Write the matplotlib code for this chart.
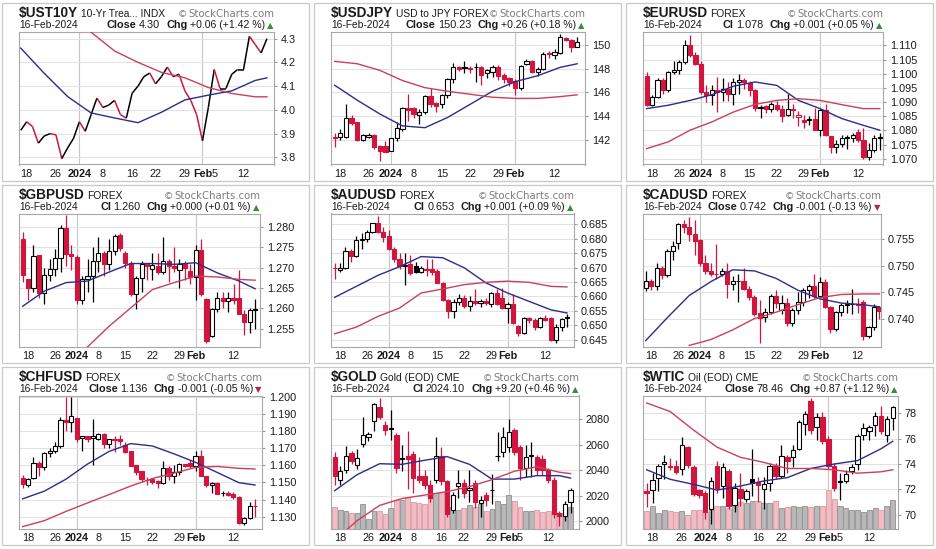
import numpy as np
import pandas as pd
import matplotlib
matplotlib.use('Agg')
import matplotlib.pyplot as plt
from matplotlib.patches import Rectangle
from matplotlib.collections import LineCollection

FONT = ['Liberation Sans', 'DejaVu Sans']
plt.rcParams['font.family'] = FONT

# trading calendars (forex trades on Jan 15, US markets do not)
fx_days = pd.bdate_range('2023-12-15', '2024-02-16')
fx_days = fx_days[~fx_days.isin(pd.to_datetime(['2023-12-25', '2024-01-01']))]
us_days = fx_days[fx_days != pd.Timestamp('2024-01-15')]

fx_tick_dates = ['2023-12-18', '2023-12-26', '2024-01-02', '2024-01-08', '2024-01-15',
                 '2024-01-22', '2024-01-29', '2024-02-01', '2024-02-12']
fx_tick_labels = ['18', '26', '2024', '8', '15', '22', '29', 'Feb', '12']
us_tick_dates = ['2023-12-18', '2023-12-26', '2024-01-02', '2024-01-08', '2024-01-16',
                 '2024-01-22', '2024-01-29', '2024-02-01', '2024-02-05', '2024-02-12']
us_tick_labels = ['18', '26', '2024', '8', '16', '22', '29', 'Feb', '5', '12']

ma_days_fx = [0, 4, 8, 12, 16, 20, 24, 28, 32, 36, 40, 43]
ma_days_us = [0, 4, 8, 12, 16, 20, 24, 28, 32, 36, 40, 42]

# ---------------- data ----------------
ust_close = [3.914, 3.95, 3.93, 3.86, 3.89, 3.90, 3.895, 3.795, 3.84, 3.88, 3.95, 3.91, 3.98,
             4.05, 4.01, 4.02, 4.04, 3.98, 3.965, 4.07, 4.10, 4.14, 4.155, 4.11, 4.14, 4.18,
             4.14, 4.15, 4.08, 4.04, 3.98, 3.87, 4.01, 4.17, 4.09, 4.09, 4.15, 4.17, 4.17,
             4.31, 4.275, 4.24, 4.30]
ust_ma20 = [4.26, 4.154, 4.056, 3.987, 3.966, 3.946, 3.99, 4.042, 4.062, 4.08, 4.124, 4.135]
ust_ma50 = [np.nan, np.nan, 4.42, 4.327, 4.248, 4.20, 4.158, 4.135, 4.094, 4.069, 4.055, 4.055]

# (open, high, low, close)
usdjpy_ohlc = [
    (142.3, 142.6, 141.4, 142.2), (142.3, 142.9, 142.0, 142.6), (142.3, 145.0, 142.2, 143.9),
    (143.9, 144.1, 143.3, 143.45), (143.5, 143.5, 141.9, 142.0), (142.05, 142.5, 141.9, 142.4),
    (142.3, 142.6, 142.2, 142.45), (142.4, 142.5, 141.3, 141.45), (141.5, 141.6, 140.3, 141.1),
    (141.5, 141.9, 141.0, 141.05), (141.1, 142.2, 141.1, 142.2), (142.2, 143.5, 141.9, 143.0),
    (142.95, 144.75, 142.8, 144.7), (144.7, 145.9, 143.6, 144.5), (144.7, 144.8, 143.9, 144.2),
    (144.15, 144.6, 143.4, 144.4), (144.4, 145.8, 144.2, 145.7), (145.7, 146.4, 144.8, 145.05),
    (145.1, 145.2, 144.35, 144.85), (145.0, 145.9, 144.7, 145.75), (145.75, 147.2, 145.5, 147.15),
    (147.15, 148.5, 146.8, 148.15), (148.15, 148.2, 147.8, 148.0), (148.1, 148.6, 147.6, 148.05),
    (148.05, 148.2, 147.6, 147.98), (148.1, 148.5, 146.9, 148.15), (148.15, 148.2, 146.6, 147.45),
    (147.6, 148.0, 147.2, 147.85), (147.7, 148.3, 147.3, 148.15), (148.1, 148.3, 147.0, 147.35),
    (147.45, 147.6, 146.8, 147.1), (147.25, 147.3, 146.5, 146.85), (146.95, 147.1, 145.8, 146.4),
    (146.4, 148.3, 146.2, 148.2), (148.4, 148.8, 148.3, 148.6), (148.65, 148.7, 147.6, 147.7),
    (147.7, 148.1, 147.4, 148.0), (148.0, 149.4, 147.9, 149.25), (149.3, 149.5, 148.9, 149.2),
    (149.1, 149.6, 148.8, 149.4), (149.3, 150.85, 149.2, 150.6), (150.55, 150.65, 150.3, 150.4),
    (150.4, 150.5, 149.4, 149.8), (149.8, 150.6, 149.8, 150.23)]
usdjpy_ma20 = [146.6, 145.35, 144.2, 143.2, 143.05, 143.9, 145.0, 146.1, 146.9, 147.4, 148.1, 148.4]
usdjpy_ma50 = [148.6, 148.4, 147.85, 147.0, 146.4, 146.1, 145.85, 145.6, 145.5, 145.5, 145.65, 145.8]

eurusd_ohlc = [
    (1.0991, 1.1005, 1.0885, 1.0889), (1.0889, 1.0925, 1.0885, 1.0918), (1.0918, 1.0985, 1.0915, 1.0977),
    (1.0977, 1.0985, 1.0930, 1.0942), (1.0942, 1.1010, 1.0935, 1.1006), (1.1006, 1.1045, 1.0998, 1.1012),
    (1.1014, 1.1050, 1.1000, 1.1041), (1.1041, 1.1120, 1.1035, 1.1100), (1.1100, 1.1135, 1.1060, 1.1065),
    (1.1065, 1.1075, 1.1030, 1.1035), (1.1035, 1.1045, 1.0930, 1.0936), (1.0936, 1.0960, 1.0900, 1.0924),
    (1.0924, 1.0960, 1.0890, 1.0942), (1.0942, 1.0990, 1.0865, 1.0936), (1.0936, 1.0985, 1.0905, 1.0948),
    (1.0948, 1.0970, 1.0905, 1.0930), (1.0930, 1.0985, 1.0890, 1.0971), (1.0971, 1.1000, 1.0930, 1.0977),
    (1.0977, 1.0985, 1.0945, 1.0971), (1.0967, 1.0975, 1.0920, 1.0942), (1.0942, 1.0945, 1.0870, 1.0881),
    (1.0878, 1.0890, 1.0845, 1.0883), (1.0885, 1.0890, 1.0860, 1.0877), (1.0877, 1.0900, 1.0865, 1.0895),
    (1.0889, 1.0905, 1.0870, 1.0874), (1.0877, 1.0890, 1.0830, 1.0850), (1.0854, 1.0930, 1.0850, 1.0877),
    (1.0877, 1.0895, 1.0845, 1.0871), (1.0846, 1.0870, 1.0815, 1.0854), (1.0836, 1.0855, 1.0810, 1.0830),
    (1.0836, 1.0850, 1.0820, 1.0840), (1.0842, 1.0880, 1.0800, 1.0801), (1.0801, 1.0875, 1.0780, 1.0871),
    (1.0871, 1.0895, 1.0780, 1.0783), (1.0780, 1.0782, 1.0720, 1.0740), (1.0740, 1.0765, 1.0722, 1.0754),
    (1.0754, 1.0785, 1.0740, 1.0772), (1.0775, 1.0785, 1.0735, 1.0776), (1.0775, 1.0790, 1.0760, 1.0783),
    (1.0795, 1.0805, 1.0760, 1.0766), (1.0766, 1.0810, 1.0700, 1.0705), (1.0705, 1.0755, 1.0695, 1.0730),
    (1.0730, 1.0785, 1.0723, 1.0775), (1.0775, 1.0790, 1.0730, 1.0778)]
eurusd_ma20 = [1.0877, 1.0889, 1.0906, 1.0926, 1.0956, 1.0971, 1.0959, 1.0906, 1.0877, 1.0842, 1.0818, 1.0801]
eurusd_ma50 = [1.0736, 1.0760, 1.0801, 1.0830, 1.0865, 1.0892, 1.0906, 1.0912, 1.0906, 1.0891, 1.0877, 1.0877]

gbpusd_ohlc = [
    (1.2770, 1.2788, 1.2665, 1.2683), (1.2671, 1.2673, 1.2620, 1.2650), (1.2650, 1.2755, 1.2640, 1.2728),
    (1.2730, 1.2730, 1.2625, 1.2638), (1.2638, 1.2700, 1.2610, 1.2683), (1.2683, 1.2720, 1.2668, 1.2697),
    (1.2697, 1.2745, 1.2680, 1.2724), (1.2724, 1.2805, 1.2690, 1.2798), (1.2798, 1.2830, 1.2705, 1.2733),
    (1.2734, 1.2755, 1.2695, 1.2728), (1.2727, 1.2730, 1.2610, 1.2620), (1.2620, 1.2680, 1.2610, 1.2671),
    (1.2671, 1.2720, 1.2640, 1.2679), (1.2679, 1.2750, 1.2615, 1.2716), (1.2716, 1.2775, 1.2690, 1.2737),
    (1.2737, 1.2740, 1.2680, 1.2710), (1.2710, 1.2770, 1.2695, 1.2741), (1.2741, 1.2783, 1.2730, 1.2778),
    (1.2779, 1.2785, 1.2740, 1.2749), (1.2735, 1.2740, 1.2700, 1.2712), (1.2712, 1.2715, 1.2630, 1.2634),
    (1.2634, 1.2680, 1.2597, 1.2675), (1.2675, 1.2715, 1.2640, 1.2710), (1.2710, 1.2712, 1.2670, 1.2705),
    (1.2696, 1.2735, 1.2670, 1.2706), (1.2704, 1.2735, 1.2685, 1.2690), (1.2689, 1.2775, 1.2685, 1.2716),
    (1.2716, 1.2720, 1.2665, 1.2704), (1.2704, 1.2750, 1.2690, 1.2700), (1.2694, 1.2720, 1.2650, 1.2708),
    (1.2708, 1.2715, 1.2670, 1.2700), (1.2691, 1.2710, 1.2660, 1.2677), (1.2677, 1.2755, 1.2620, 1.2743),
    (1.2743, 1.2770, 1.2630, 1.2634), (1.2622, 1.2625, 1.2515, 1.2519), (1.2531, 1.2600, 1.2530, 1.2598),
    (1.2598, 1.2640, 1.2590, 1.2626), (1.2626, 1.2640, 1.2600, 1.2617), (1.2617, 1.2640, 1.2590, 1.2626),
    (1.2626, 1.2660, 1.2610, 1.2620), (1.2626, 1.2695, 1.2585, 1.2587), (1.2587, 1.2595, 1.2535, 1.2566),
    (1.2566, 1.2600, 1.2540, 1.2595), (1.2595, 1.2622, 1.2550, 1.2598)]
gbpusd_ma20 = [1.2605, 1.2642, 1.2663, 1.2667, 1.2689, 1.2710, 1.2710, 1.2708, 1.2712, 1.2687, 1.2667, 1.2648]
gbpusd_ma50 = [np.nan, np.nan, 1.2470, 1.2505, 1.2556, 1.2601, 1.2646, 1.2663, 1.2679, 1.2677, 1.2671, 1.2669]

audusd_ohlc = [
    (0.6699, 0.6715, 0.6660, 0.6697), (0.6691, 0.6715, 0.6685, 0.6699), (0.6699, 0.6770, 0.6695, 0.6757),
    (0.6757, 0.6765, 0.6720, 0.6740), (0.6740, 0.6810, 0.6735, 0.6796), (0.6796, 0.6820, 0.6765, 0.6800),
    (0.6800, 0.6830, 0.6790, 0.6823), (0.6823, 0.6855, 0.6820, 0.6853), (0.6853, 0.6880, 0.6820, 0.6823),
    (0.6823, 0.6840, 0.6790, 0.6804), (0.6809, 0.6830, 0.6760, 0.6763), (0.6763, 0.6770, 0.6720, 0.6731),
    (0.6731, 0.6750, 0.6695, 0.6705), (0.6705, 0.6750, 0.6640, 0.6710), (0.6712, 0.6745, 0.6675, 0.6680),
    (0.6707, 0.6720, 0.6680, 0.6684), (0.6684, 0.6705, 0.6680, 0.6699), (0.6696, 0.6730, 0.6670, 0.6693),
    (0.6696, 0.6730, 0.6675, 0.6684), (0.6688, 0.6695, 0.6645, 0.6647), (0.6647, 0.6650, 0.6585, 0.6589),
    (0.6587, 0.6590, 0.6525, 0.6549), (0.6549, 0.6590, 0.6525, 0.6580), (0.6580, 0.6610, 0.6570, 0.6595),
    (0.6595, 0.6605, 0.6560, 0.6566), (0.6566, 0.6600, 0.6550, 0.6583), (0.6583, 0.6625, 0.6570, 0.6578),
    (0.6578, 0.6590, 0.6565, 0.6583), (0.6583, 0.6595, 0.6570, 0.6578), (0.6575, 0.6615, 0.6565, 0.6612),
    (0.6612, 0.6625, 0.6570, 0.6575), (0.6595, 0.6630, 0.6555, 0.6560), (0.6560, 0.6580, 0.6510, 0.6575),
    (0.6575, 0.6610, 0.6505, 0.6508), (0.6499, 0.6500, 0.6465, 0.6473), (0.6473, 0.6530, 0.6470, 0.6525),
    (0.6525, 0.6530, 0.6510, 0.6517), (0.6517, 0.6525, 0.6485, 0.6496), (0.6496, 0.6530, 0.6490, 0.6525),
    (0.6525, 0.6535, 0.6515, 0.6520), (0.6525, 0.6530, 0.6445, 0.6448), (0.6448, 0.6505, 0.6440, 0.6496),
    (0.6496, 0.6525, 0.6480, 0.6522), (0.6525, 0.6540, 0.6495, 0.6529)]
audusd_ma20 = [0.6597, 0.6635, 0.6673, 0.6703, 0.6738, 0.6734, 0.6699, 0.6647, 0.6612, 0.6583, 0.6554, 0.6543]
audusd_ma50 = [0.6471, 0.6494, 0.6531, 0.6560, 0.6612, 0.6626, 0.6641, 0.6649, 0.6653, 0.6649, 0.6635, 0.6633]

cadusd_ohlc = [
    (0.7459, 0.7489, 0.7453, 0.7472), (0.7472, 0.7475, 0.7455, 0.7461), (0.7461, 0.7505, 0.7455, 0.7495),
    (0.7495, 0.7500, 0.7475, 0.7482), (0.7482, 0.7530, 0.7478, 0.7527), (0.7527, 0.7545, 0.7510, 0.7536),
    (0.7542, 0.7580, 0.7530, 0.7577), (0.7577, 0.7585, 0.7560, 0.7571), (0.7571, 0.7590, 0.7545, 0.7558),
    (0.7558, 0.7585, 0.7520, 0.7546), (0.7548, 0.7550, 0.7500, 0.7504), (0.7504, 0.7520, 0.7485, 0.7489),
    (0.7490, 0.7505, 0.7480, 0.7485), (0.7485, 0.7540, 0.7475, 0.7484), (0.7484, 0.7495, 0.7480, 0.7489),
    (0.7490, 0.7505, 0.7440, 0.7466), (0.7466, 0.7480, 0.7455, 0.7471), (0.7471, 0.7485, 0.7432, 0.7471),
    (0.7471, 0.7495, 0.7455, 0.7457), (0.7457, 0.7462, 0.7435, 0.7441), (0.7441, 0.7445, 0.7405, 0.7410),
    (0.7411, 0.7435, 0.7355, 0.7403), (0.7404, 0.7420, 0.7395, 0.7413), (0.7413, 0.7446, 0.7410, 0.7444),
    (0.7444, 0.7455, 0.7420, 0.7430), (0.7417, 0.7445, 0.7410, 0.7430), (0.7430, 0.7440, 0.7388, 0.7392),
    (0.7392, 0.7420, 0.7388, 0.7417), (0.7417, 0.7450, 0.7410, 0.7432), (0.7432, 0.7458, 0.7425, 0.7455),
    (0.7455, 0.7465, 0.7440, 0.7461), (0.7461, 0.7485, 0.7440, 0.7444), (0.7444, 0.7478, 0.7440, 0.7470),
    (0.7470, 0.7475, 0.7420, 0.7422), (0.7422, 0.7425, 0.7375, 0.7381), (0.7381, 0.7415, 0.7378, 0.7413),
    (0.7413, 0.7430, 0.7405, 0.7427), (0.7428, 0.7435, 0.7412, 0.7427), (0.7428, 0.7457, 0.7410, 0.7429),
    (0.7429, 0.7440, 0.7412, 0.7427), (0.7432, 0.7435, 0.7362, 0.7368), (0.7368, 0.7388, 0.7365, 0.7385),
    (0.7385, 0.7428, 0.7380, 0.7423), (0.7423, 0.7425, 0.7400, 0.7416)]
cadusd_ma20 = [0.7360, 0.7403, 0.7444, 0.7470, 0.7492, 0.7490, 0.7476, 0.7454, 0.7438, 0.7430, 0.7427, 0.7423]
cadusd_ma50 = [np.nan, np.nan, 0.7351, 0.7362, 0.7380, 0.7401, 0.7413, 0.7427, 0.7440, 0.7446, 0.7447, 0.7447]

chfusd_ohlc = [
    (1.1529, 1.1545, 1.1465, 1.1489), (1.1483, 1.1525, 1.1475, 1.1523), (1.1529, 1.1650, 1.1520, 1.1614),
    (1.1614, 1.1625, 1.1535, 1.1588), (1.1588, 1.1680, 1.1575, 1.1674), (1.1674, 1.1700, 1.1650, 1.1682),
    (1.1682, 1.1735, 1.1670, 1.1712), (1.1712, 1.1885, 1.1700, 1.1867), (1.1867, 1.2000, 1.1800, 1.1853),
    (1.1857, 1.2000, 1.1795, 1.1887), (1.1877, 1.1880, 1.1735, 1.1757), (1.1761, 1.1775, 1.1685, 1.1773),
    (1.1773, 1.1775, 1.1740, 1.1757), (1.1761, 1.1870, 1.1605, 1.1773), (1.1757, 1.1790, 1.1750, 1.1787),
    (1.1787, 1.1790, 1.1705, 1.1728), (1.1728, 1.1755, 1.1700, 1.1753), (1.1753, 1.1775, 1.1680, 1.1747),
    (1.1753, 1.1780, 1.1720, 1.1741), (1.1722, 1.1735, 1.1675, 1.1678), (1.1682, 1.1685, 1.1595, 1.1598),
    (1.1602, 1.1605, 1.1545, 1.1563), (1.1568, 1.1570, 1.1500, 1.1519), (1.1515, 1.1530, 1.1485, 1.1517),
    (1.1519, 1.1525, 1.1490, 1.1503), (1.1509, 1.1515, 1.1465, 1.1495), (1.1495, 1.1625, 1.1490, 1.1583),
    (1.1583, 1.1595, 1.1515, 1.1535), (1.1535, 1.1600, 1.1495, 1.1563), (1.1563, 1.1612, 1.1545, 1.1608),
    (1.1608, 1.1610, 1.1590, 1.1598), (1.1614, 1.1630, 1.1585, 1.1594), (1.1594, 1.1685, 1.1570, 1.1658),
    (1.1658, 1.1690, 1.1535, 1.1539), (1.1535, 1.1540, 1.1475, 1.1483), (1.1483, 1.1505, 1.1440, 1.1499),
    (1.1499, 1.1500, 1.1430, 1.1435), (1.1439, 1.1450, 1.1420, 1.1441), (1.1439, 1.1448, 1.1420, 1.1429),
    (1.1435, 1.1445, 1.1405, 1.1415), (1.1415, 1.1418, 1.1255, 1.1260), (1.1260, 1.1295, 1.1250, 1.1290),
    (1.1290, 1.1385, 1.1285, 1.1364), (1.1362, 1.1405, 1.1295, 1.1360)]
chfusd_ma20 = [1.1404, 1.1449, 1.1519, 1.1608, 1.1682, 1.1728, 1.1714, 1.1668, 1.1618, 1.1559, 1.1499, 1.1485]
chfusd_ma50 = [1.1241, 1.1276, 1.1330, 1.1380, 1.1429, 1.1479, 1.1523, 1.1555, 1.1588, 1.1594, 1.1583, 1.1579]

gold_ohlc = [
    (2050.0, 2054.5, 2028.5, 2035.2), (2032.5, 2043.0, 2028.0, 2039.2), (2040.5, 2059.3, 2038.0, 2051.3),
    (2053.4, 2055.0, 2045.0, 2047.2), (2043.8, 2057.0, 2041.0, 2049.9), (2060.7, 2082.0, 2058.0, 2067.9),
    (2066.0, 2070.0, 2063.0, 2068.7), (2078.7, 2093.0, 2071.0, 2092.1), (2089.4, 2097.0, 2080.0, 2082.1),
    (2075.4, 2079.0, 2068.0, 2071.4), (2072.9, 2087.5, 2064.0, 2072.6), (2067.4, 2069.0, 2038.0, 2041.9),
    (2049.3, 2060.0, 2039.0, 2049.1), (2051.3, 2071.0, 2025.0, 2049.0), (2052.6, 2055.0, 2022.0, 2033.8),
    (2035.2, 2050.0, 2030.0, 2032.5), (2035.2, 2040.0, 2025.0, 2028.5), (2028.5, 2032.0, 2015.0, 2018.3),
    (2032.5, 2066.0, 2030.0, 2051.3), (2051.3, 2058.0, 2028.0, 2031.1), (2031.1, 2032.0, 2003.0, 2005.6),
    (2008.3, 2023.0, 2006.0, 2020.4), (2027.9, 2040.0, 2018.0, 2029.8), (2030.3, 2033.0, 2018.0, 2021.7),
    (2024.4, 2040.0, 2015.0, 2025.8), (2030.3, 2032.0, 2010.0, 2015.0), (2014.2, 2020.0, 2003.0, 2016.9),
    (2020.4, 2023.0, 2012.0, 2016.4), (2024.6, 2037.0, 2013.0, 2024.4), (2051.4, 2070.0, 2047.0, 2051.3),
    (2054.5, 2074.0, 2050.0, 2066.0), (2058.0, 2080.0, 2054.0, 2070.1), (2071.4, 2073.0, 2052.0, 2054.0),
    (2058.0, 2060.0, 2032.0, 2041.9), (2041.9, 2060.0, 2035.0, 2050.7), (2051.3, 2062.0, 2035.0, 2051.8),
    (2050.7, 2052.0, 2036.0, 2040.5), (2049.1, 2052.0, 2036.0, 2040.4), (2040.5, 2042.0, 2030.0, 2032.5),
    (2032.5, 2035.0, 2002.0, 2005.6), (2006.2, 2008.0, 1996.0, 2004.3), (2004.3, 2016.0, 2000.0, 2013.7),
    (2015.0, 2026.0, 2006.0, 2024.1)]
gold_volume = [63, 53, 51, 46, 46, 71, 27, 51, 51, 43, 60, 85, 83, 93, 78, 76, 71, 88, 103, 108,
               63, 63, 55, 61, 68, 63, 71, 51, 56, 81, 73, 98, 80, 63, 51, 51, 53, 48, 51, 46,
               46, 51, 63]
gold_ma20 = [2023.9, 2036.5, 2045.1, 2044.6, 2047.8, 2050.7, 2044.6, 2033.0, 2033.0, 2035.7, 2035.7, 2033.8]
gold_ma50 = [1985.0, 2000.3, 2012.3, 2017.7, 2020.4, 2023.1, 2027.1, 2032.5, 2039.2, 2042.7, 2038.4, 2037.3]

wtic_ohlc = [
    (71.87, 72.5, 70.6, 71.73), (71.95, 73.3, 70.9, 72.75), (72.93, 74.0, 71.9, 73.87),
    (74.0, 74.7, 72.8, 74.13), (73.87, 74.5, 73.5, 73.73), (73.87, 74.3, 73.2, 73.39),
    (73.6, 76.15, 73.1, 75.52), (75.33, 75.4, 73.7, 73.92), (73.73, 73.9, 71.5, 71.68),
    (71.95, 72.0, 71.3, 71.6), (71.73, 71.9, 69.7, 70.21), (70.45, 73.0, 69.3, 72.67),
    (73.87, 74.2, 71.7, 72.13), (72.27, 74.1, 71.3, 73.73), (73.47, 73.6, 70.5, 70.72),
    (70.8, 72.5, 70.2, 72.13), (72.05, 73.3, 70.7, 71.33), (71.25, 72.0, 71.0, 71.87),
    (72.8, 75.2, 71.5, 72.53), (72.61, 73.0, 71.0, 72.32), (72.0, 73.0, 70.5, 72.4),
    (72.53, 74.1, 71.9, 73.87), (73.87, 74.1, 72.8, 73.07), (73.07, 75.5, 72.9, 74.67),
    (74.53, 74.7, 73.3, 74.27), (74.53, 75.5, 73.8, 75.07), (75.2, 77.5, 75.1, 77.28),
    (77.12, 78.2, 76.3, 77.92), (78.93, 79.2, 76.4, 76.67), (76.93, 78.0, 75.9, 77.73),
    (77.73, 78.1, 75.6, 75.79), (75.95, 76.2, 73.6, 73.87), (73.87, 74.1, 71.9, 72.13),
    (72.67, 73.3, 71.2, 72.6), (72.67, 73.5, 72.5, 73.2), (73.47, 74.0, 73.2, 73.73),
    (74.0, 76.4, 73.5, 76.19), (76.32, 77.2, 75.9, 76.8), (76.59, 77.1, 75.9, 76.93),
    (77.07, 78.1, 76.2, 77.79), (77.81, 78.6, 76.4, 76.59), (76.27, 77.8, 75.7, 77.52),
    (77.6, 78.6, 76.7, 78.46)]
wtic_volume = [50, 67, 45, 53, 50, 48, 50, 40, 53, 53, 48, 53, 67, 67, 60, 67, 77, 75, 82, 80,
               75, 75, 80, 60, 62, 65, 63, 67, 63, 65, 67, 113, 87, 67, 60, 55, 53, 47, 55, 60,
               55, 67, 85]
wtic_ma20 = [73.55, 72.8, 72.4, 71.95, 72.27, 72.67, 72.93, 73.65, 74.0, 74.27, 75.2, 75.79]
wtic_ma50 = [78.8, 78.13, 76.67, 75.33, 74.53, 74.13, 73.65, 73.65, 73.55, 73.28, 73.39, 73.55]

tickers = ['$UST10Y', '$USDJPY', '$EURUSD', '$GBPUSD', '$AUDUSD', '$CADUSD', '$CHFUSD', '$GOLD', '$WTIC']
descriptions = ['10-Yr Trea... INDX', 'USD to JPY FOREX', 'FOREX', 'FOREX', 'FOREX', 'FOREX',
                'FOREX', 'Gold (EOD) CME', 'Oil (EOD) CME']
close_words = ['Close', 'Close', 'Cl', 'Cl', 'Cl', 'Close', 'Close', 'Cl', 'Close']
close_values = ['4.30', '150.23', '1.078', '1.260', '0.653', '0.742', '1.136', '2024.10', '78.46']
change_values = ['+0.06 (+1.42 %)', '+0.26 (+0.18 %)', '+0.001 (+0.05 %)', '+0.000 (+0.01 %)',
                 '+0.001 (+0.09 %)', '-0.001 (-0.13 %)', '-0.001 (-0.05 %)', '+9.20 (+0.46 %)',
                 '+0.87 (+1.12 %)']
change_up = [True, True, True, True, True, False, False, True, True]

yticks_list = [[3.8, 3.9, 4.0, 4.1, 4.2, 4.3], [142, 144, 146, 148, 150],
               [1.070, 1.075, 1.080, 1.085, 1.090, 1.095, 1.100, 1.105, 1.110],
               [1.255, 1.260, 1.265, 1.270, 1.275, 1.280],
               [0.645, 0.650, 0.655, 0.660, 0.665, 0.670, 0.675, 0.680, 0.685],
               [0.740, 0.745, 0.750, 0.755],
               [1.130, 1.140, 1.150, 1.160, 1.170, 1.180, 1.190, 1.200],
               [2000, 2020, 2040, 2060, 2080], [70, 72, 74, 76, 78]]
ytick_fmt = ['%.1f', '%d', '%.3f', '%.3f', '%.3f', '%.3f', '%.3f', '%d', '%d']

# ---------------- layout / style ----------------
W, H = 937, 549
COL_X = [0, 312, 624]
ROW_Y = [0, 182, 364]
PLOT_L, PLOT_T, PLOT_B = 19, 31.5, 164.5
plot_right = [274, 273, 259, 260, 262, 257, 262, 267, 274]
xlims = [(-0.3, 43.2), (-0.66, 44.4), (-0.68, 43.6), (-0.68, 43.9), (-0.68, 44.3),
         (-0.5, 43.3), (-0.68, 44.3), (-0.66, 43.5), (-0.63, 42.9)]
ylims = [(3.77, 4.33), (139.97, 151.1), (1.068, 1.1149), (1.2506, 1.2833), (0.6427, 0.6887),
         (0.7349, 0.7597), (1.123, 1.201), (1994.1, 2098.8), (68.93, 79.39)]

RED = '#d0163f'
MA20_C = '#2c2c8c'
MA50_C = '#c8405e'
PINK, PINK_E = '#f2bcc4', '#dc9aa6'
GRAY, GRAY_E = '#b8b8b8', '#909090'
TXT = '#1a1a1a'

fig = plt.figure(figsize=(W / 100, H / 100), dpi=100)
fig.patch.set_facecolor('white')
renderer = fig.canvas.get_renderer()


def put_runs(x_px, y_px, parts, align='left', family=None):
    texts = []
    x = x_px
    for s, weight, size, color, gap in parts:
        t = fig.text(x / W, 1 - y_px / H, s, fontsize=size, fontweight=weight, color=color,
                     va='baseline', ha='left', family=family or FONT)
        x += t.get_window_extent(renderer).width + gap
        texts.append(t)
    if align == 'right':
        shift = (x - x_px) / W
        for t in texts:
            t.set_x(t.get_position()[0] - shift)


def draw_candles(ax, ohlc, volume=None):
    o, h, l, c = np.array(ohlc).T
    x = np.arange(len(c))
    prev = np.r_[o[0], c[:-1]]
    down = c < prev
    col = np.where(down, RED, 'black')
    if volume is not None:
        ax.bar(x, np.array(volume) / 390.0, width=0.86, bottom=0,
               transform=ax.get_xaxis_transform(), color=np.where(down, PINK, GRAY),
               edgecolor=np.where(down, PINK_E, GRAY_E), linewidth=0.6, zorder=1)
    ax.vlines(x, l, h, colors=col, lw=0.9, zorder=2)
    fill = np.where(c > o, 'white', col)
    ax.bar(x, np.abs(c - o), bottom=np.minimum(o, c), width=0.76, color=fill,
           edgecolor=col, linewidth=0.8, zorder=3)


series = [
    ('line', ust_close, None, ust_ma20, ust_ma50, us_days),
    ('candle', usdjpy_ohlc, None, usdjpy_ma20, usdjpy_ma50, fx_days),
    ('candle', eurusd_ohlc, None, eurusd_ma20, eurusd_ma50, fx_days),
    ('candle', gbpusd_ohlc, None, gbpusd_ma20, gbpusd_ma50, fx_days),
    ('candle', audusd_ohlc, None, audusd_ma20, audusd_ma50, fx_days),
    ('candle', cadusd_ohlc, None, cadusd_ma20, cadusd_ma50, fx_days),
    ('candle', chfusd_ohlc, None, chfusd_ma20, chfusd_ma50, fx_days),
    ('candle', gold_ohlc, gold_volume, gold_ma20, gold_ma50, us_days),
    ('candle', wtic_ohlc, wtic_volume, wtic_ma20, wtic_ma50, us_days),
]

for k, (kind, values, vol, ma20, ma50, days) in enumerate(series):
    x0 = COL_X[k % 3]
    y0 = ROW_Y[k // 3]
    right = plot_right[k]

    # panel frame
    fig.add_artist(Rectangle(((x0 + 2) / W, 1 - (y0 + 181) / H), 307 / W, 178 / H,
                             transform=fig.transFigure, fill=False, ec='#c8c8c8', lw=0.9))

    ax = fig.add_axes([(x0 + PLOT_L) / W, 1 - (y0 + PLOT_B) / H,
                       (right - PLOT_L) / W, (PLOT_B - PLOT_T) / H])
    ax.set_xlim(*xlims[k])
    ax.set_ylim(*ylims[k])

    is_fx = days is fx_days
    tick_dates = fx_tick_dates if is_fx else us_tick_dates
    tick_labels = fx_tick_labels if is_fx else us_tick_labels
    tick_pos = [days.get_loc(pd.Timestamp(d)) for d in tick_dates]
    ax.set_xticks(tick_pos)
    ax.set_xticklabels(tick_labels)
    for lab in ax.get_xticklabels():
        if lab.get_text() in ('2024', 'Feb'):
            lab.set_fontweight('bold')
    for d in ('2024-01-02', '2024-02-01'):
        ax.axvline(days.get_loc(pd.Timestamp(d)), color='#c6c6c6', lw=0.8, zorder=0)

    ax.yaxis.tick_right()
    ax.set_yticks(yticks_list[k])
    ax.set_yticklabels([ytick_fmt[k] % v for v in yticks_list[k]])
    ax.set_ylim(*ylims[k])
    ax.yaxis.grid(True, color='#e2e2e2', lw=0.8)
    ax.set_axisbelow(True)
    ax.tick_params(axis='y', length=2, pad=3, labelsize=7.8, colors=TXT, color='#999999')
    ax.tick_params(axis='x', length=0, pad=3, labelsize=7.8, colors=TXT)
    for sp in ax.spines.values():
        sp.set_color('#a8a8a8')
        sp.set_linewidth(0.8)

    ma_days = ma_days_fx if is_fx else ma_days_us
    if kind == 'line':
        y = np.array(values)
        x = np.arange(len(y))
        segs = np.stack([np.c_[x[:-1], y[:-1]], np.c_[x[1:], y[1:]]], axis=1)
        seg_col = np.where(np.diff(y) < 0, RED, 'black')
        ax.add_collection(LineCollection(segs, colors=seg_col, lw=1.1, zorder=3))
    else:
        draw_candles(ax, values, vol)
    ax.plot(ma_days, ma20, color=MA20_C, lw=1.0, zorder=4)
    ax.plot(ma_days, ma50, color=MA50_C, lw=1.0, zorder=4)

    # header lines
    put_runs(x0 + PLOT_L, y0 + 17, [(tickers[k], 'bold', 9.8, TXT, 2.5),
                                    (descriptions[k], 'normal', 7.4, TXT, 0)])
    put_runs(x0 + right, y0 + 17, [('\u00a9', 'normal', 6.8, '#7c7c7c', 1),
                                   ('StockCharts.com', 'normal', 7.3, '#7c7c7c', 0)],
             align='right', family=['DejaVu Sans'])
    put_runs(x0 + PLOT_L, y0 + 28, [('16-Feb-2024', 'normal', 7.4, TXT, 0)])
    put_runs(x0 + right - 9, y0 + 28,
             [(close_words[k], 'bold', 7.8, TXT, 2.5),
              (close_values[k], 'normal', 7.8, TXT, 6),
              ('Chg', 'bold', 7.8, TXT, 2.5),
              (change_values[k], 'normal', 7.6, TXT, 0)], align='right')
    fig.text((x0 + right - 3.5) / W, 1 - (y0 + 26) / H,
             '\u25b2' if change_up[k] else '\u25bc', fontsize=6,
             color='#3d8b3d' if change_up[k] else '#b0284a', ha='center', va='center',
             family=['DejaVu Sans'])

fig.savefig('out.png', dpi=100, facecolor='white')
